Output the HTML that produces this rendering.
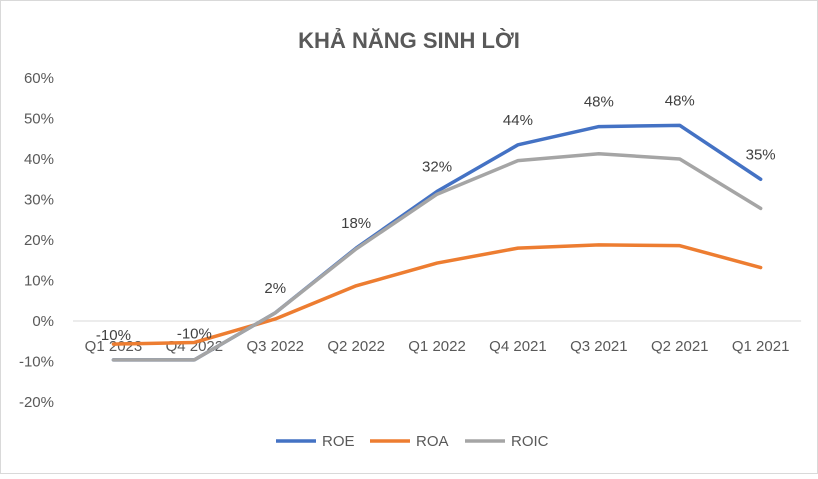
<!DOCTYPE html>
<html><head><meta charset="utf-8"><style>
body{margin:0;background:#fff;font-family:"Liberation Sans","Noto Sans CJK SC",sans-serif;}
svg text{font-family:"Liberation Sans","Noto Sans CJK SC",sans-serif;}
</style></head><body>
<svg id="c" width="818" height="474">
<rect x="0.5" y="0.5" width="817" height="473" fill="#fff" stroke="#d9d9d9"/>
<text x="409" y="48" text-anchor="middle" font-size="22" font-weight="bold" fill="#595959">KHẢ NĂNG SINH LỜI</text>
<g id="g"></g>
</svg>
<script>
const categories=["Q1 2023","Q4 2022","Q3 2022","Q2 2022","Q1 2022","Q4 2021","Q3 2021","Q2 2021","Q1 2021"];
const roe=[-9.6,-9.6,2,18,32,43.5,48,48.3,35];
const roa=[-5.7,-5.3,0.5,8.7,14.3,18,18.8,18.6,13.2];
const roic=[-9.6,-9.6,2,17.8,31.3,39.6,41.3,40,27.8];
const roeLabels=["-10%","-10%","2%","18%","32%","44%","48%","48%","35%"];
const yTicks=[60,50,40,30,20,10,0,-10,-20];
const NS="http://www.w3.org/2000/svg";
const g=document.getElementById('g');
const x0=73,step=80.9;
function xs(i){return x0+step*(i+0.5);}
function ys(v){return 321-v*4.05;}
function mk(t,a){const e=document.createElementNS(NS,t);for(const k in a)e.setAttribute(k,a[k]);g.appendChild(e);return e;}
yTicks.forEach(v=>{
const t=mk('text',{x:54,y:ys(v)+5,'text-anchor':'end','font-size':15,fill:'#595959'});


t.textContent=v+'%';
});
const ax=mk('line',{x1:x0,x2:x0+step*9,y1:ys(0),y2:ys(0),stroke:'#d9d9d9','stroke-width':1});


categories.forEach((c,i)=>{
const t=mk('text',{x:xs(i),y:351,'text-anchor':'middle','font-size':15,fill:'#595959'});


t.textContent=c;
});
function line(arr,col,name){
const p=mk('polyline',{points:arr.map((v,i)=>xs(i)+','+ys(v)).join(' '),fill:'none',stroke:col,'stroke-width':3.5,'stroke-linejoin':'round','stroke-linecap':'round'});


}
line(roa,'#ED7D31','roa-line');
line(roe,'#4472C4','roe-line');
line(roic,'#A5A5A5','roic-line');
roeLabels.forEach((l,i)=>{
const yy=i<2?ys(roa[i])-4:ys(roe[i])-20;
const t=mk('text',{x:xs(i),y:yy,'text-anchor':'middle','font-size':15,fill:'#404040'});


t.textContent=l;
});
[["ROE","#4472C4",276],["ROA","#ED7D31",370],["ROIC","#A5A5A5",465]].forEach(([n,c,x])=>{
const l=mk('line',{x1:x,x2:x+40,y1:441,y2:441,stroke:c,'stroke-width':3.5});


const t=mk('text',{x:x+46,y:446,'font-size':15,fill:'#595959'});


t.textContent=n;
});
</script>
</body></html>
